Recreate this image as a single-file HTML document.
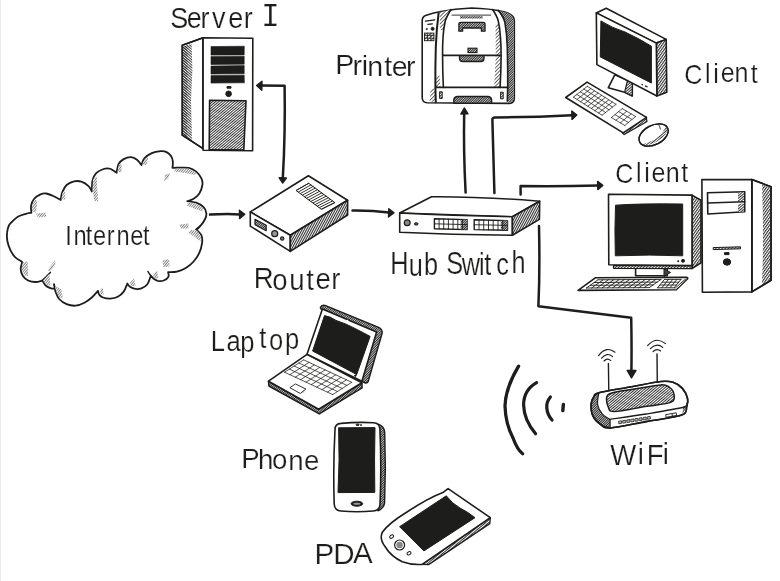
<!DOCTYPE html>
<html lang="en">
<head>
<meta charset="utf-8">
<title>Network diagram</title>
<style>
html,body{margin:0;padding:0;background:#fff;}
body{width:780px;height:581px;overflow:hidden;position:relative;}
svg{display:block;position:absolute;left:0;top:0;}
text{font-family:"Liberation Sans",sans-serif;fill:#1d1d1b;stroke:#fff;stroke-width:0.2;}
#all{filter:url(#rough);}
.o{fill:#fff;stroke:#1d1d1b;stroke-width:1.6;stroke-linejoin:round;stroke-linecap:round;}
.n{fill:none;stroke:#1d1d1b;stroke-width:1.6;stroke-linejoin:round;stroke-linecap:round;}
.t{fill:none;stroke:#1d1d1b;stroke-width:0.9;stroke-linejoin:round;stroke-linecap:round;}
.k{fill:#1d1d1b;stroke:#1d1d1b;stroke-width:1;stroke-linejoin:round;}
.a{fill:none;stroke:#1d1d1b;stroke-width:2.5;stroke-linejoin:round;stroke-linecap:round;}
.ah{fill:#1d1d1b;stroke:#1d1d1b;stroke-width:1.4;stroke-linejoin:round;}
.h1{fill:url(#h1);stroke:#1d1d1b;stroke-width:1.6;stroke-linejoin:round;}
.h2{fill:url(#h2);stroke:#1d1d1b;stroke-width:1.6;stroke-linejoin:round;}
.h3{fill:url(#h3);stroke:none;}
.h4{fill:url(#h4);stroke:none;}
.hd{fill:url(#hd);stroke:none;}
.hs{fill:url(#hs);stroke:none;}
.hb{fill:url(#hb);stroke:none;}
.h1n{fill:url(#h1);stroke:none;}
.h2n{fill:url(#h2);stroke:none;}
</style>
</head>
<body>
<svg width="780" height="581" viewBox="0 0 780 581">
<defs>
<pattern id="h1" width="2" height="2" patternUnits="userSpaceOnUse" patternTransform="rotate(-40)">
<rect width="2" height="2" fill="#fff"/><rect width="2" height="1" fill="#333"/>
</pattern>
<pattern id="h2" width="2.2" height="2.2" patternUnits="userSpaceOnUse" patternTransform="rotate(-55)">
<rect width="2.2" height="2.2" fill="#fff"/><rect width="2.2" height="1.1" fill="#333"/>
</pattern>
<pattern id="h3" width="2.6" height="2.6" patternUnits="userSpaceOnUse" patternTransform="rotate(-45)">
<rect width="2.6" height="2.6" fill="#fff"/><rect width="2.6" height="0.9" fill="#555"/>
</pattern>
<pattern id="h4" width="1.9" height="1.9" patternUnits="userSpaceOnUse" patternTransform="rotate(-50)">
<rect width="1.9" height="1.9" fill="#fff"/><rect width="1.9" height="0.8" fill="#6a6a6a"/>
</pattern>
<pattern id="hd" width="1.7" height="1.7" patternUnits="userSpaceOnUse" patternTransform="rotate(-45)">
<rect width="1.7" height="1.7" fill="#fff"/><rect width="1.7" height="1.1" fill="#2a2a2a"/>
</pattern>
<pattern id="hs" width="2" height="2" patternUnits="userSpaceOnUse" patternTransform="rotate(-62)">
<rect width="2" height="2" fill="#fff"/><rect width="2" height="1.05" fill="#303030"/>
</pattern>
<filter id="rough" x="0" y="0" width="780" height="581" filterUnits="userSpaceOnUse" color-interpolation-filters="sRGB">
<feTurbulence type="fractalNoise" baseFrequency="0.035" numOctaves="2" seed="7" result="n"/>
<feDisplacementMap in="SourceGraphic" in2="n" scale="1.2" xChannelSelector="R" yChannelSelector="G" result="d"/>
<feGaussianBlur in="d" stdDeviation="0.35"/>
</filter>
<pattern id="hb" width="2" height="2" patternUnits="userSpaceOnUse" patternTransform="rotate(40)">
<rect width="2" height="0.9" fill="#2a2a2a"/>
</pattern>
<linearGradient id="edge" x1="0" x2="1" y1="0" y2="0">
<stop offset="0" stop-color="#e2e2e2"/><stop offset="1" stop-color="#ffffff"/>
</linearGradient>
</defs>
<rect x="0" y="0" width="780" height="581" fill="#fff"/>
<rect x="0" y="0" width="1.6" height="581" fill="url(#edge)"/>
<g id="all">

<!-- SERVER -->
<g id="server">
<path class="o" d="M203.1 37.8 L182.3 45.2 L182.3 135.2 L203.1 148.6 Z"/>
<path class="hb" d="M183.2 46.5 L191.6 43.8 L192.4 70 L191 100 L192 141.4 L183.2 135.6 Z"/>
<path class="hb" d="M183.2 46.5 L187.6 45.2 L187.2 138.4 L183.2 135.6 Z"/>
<path class="n" d="M203.1 37.8 L182.3 45.2 L182.3 135.2 L203.1 148.6 Z"/>
<path class="o" d="M203.1 37.8 L252.8 38.2 L252.6 150.8 L203.1 150.2 Z"/>
<path class="k" style="stroke-linejoin:miter;stroke-width:0.6" d="M211 46.6 L244.3 46.2 L244.2 54.9 L211 55.1 Z M211 56.4 L244.2 56.2 L244.2 64.2 L211 64.5 Z M211 66 L244.2 65.6 L244.2 73.8 L211 74.1 Z M211 75.6 L244.2 75.2 L244.4 82.8 L211 83.1 Z"/>
<rect class="k" x="227" y="86.6" width="4" height="1.6"/>
<circle class="k" cx="228.6" cy="93.8" r="2.8"/>
<path class="h1" d="M209.6 100.2 L246 100.8 L243.8 150 L209.2 149.6 Z"/>
</g>

<!-- CLOUD -->
<g id="cloud">
<path class="o" style="stroke-width:1.8" d="M31.4 212.8 C31.3 211.6 30.7 208 31.1 205.7 C31.5 203.4 32.5 200.8 34 199 C35.5 197.2 38 195.5 40 194.6 C42 193.7 43.7 193.3 45.9 193.5 C48.1 193.7 50.8 194.9 53.3 196 C55.8 197.1 59.5 199.3 60.7 200 L60.7 200 C61 198.7 61.2 194.9 62.2 192.4 C63.2 189.9 64.6 186.8 66.6 185 C68.6 183.2 71.5 181.9 74 181.3 C76.5 180.8 78.9 180.8 81.4 181.7 C83.9 182.5 87.1 184.8 88.8 186.4 C90.5 188 91.3 190.7 91.8 191.5 L91.8 191.5 C91.9 189.7 91.8 183.6 92.5 180.5 C93.2 177.4 94.4 175 96.2 173.1 C98 171.2 101.4 169.7 103.6 169 C105.8 168.3 107.9 168.4 109.5 168.7 C111.1 168.9 112.1 169.8 113.3 170.5 C114.5 171.2 116 172.3 116.6 172.7 L116.6 172.7 C116.9 171.3 117.3 166.5 118.5 164.2 C119.7 161.9 121.6 160.3 123.7 159.1 C125.8 157.9 128.9 157 131.1 157.1 C133.3 157.2 135.3 158.5 137 159.8 C138.7 161.1 140.7 164.1 141.4 165 L141.4 165 C141.9 163.9 142.7 160.3 144.4 158.3 C146.1 156.3 149.1 154.3 151.8 153.1 C154.5 151.9 158.2 151.4 160.7 151.2 C163.2 151 164.9 151.3 166.6 152.1 C168.3 152.9 170 154.6 171 156.1 C172 157.6 172.6 159.3 172.8 161.3 C173.1 163.3 172.6 166.8 172.5 167.9 L172.5 167.9 C173.2 167.9 174.3 167.7 177 167.7 C179.7 167.7 185.6 167.2 188.8 167.9 C192 168.6 194.1 169.9 196.2 171.6 C198.3 173.3 200.4 176.1 201.4 178.3 C202.4 180.5 202.8 182.4 202.4 185 C202 187.6 200.7 191.5 199.2 193.8 C197.7 196.1 195.2 197.8 193.2 199 C191.2 200.2 188.3 200.8 187.3 201.2 L187.3 201.2 C188.8 201.4 193.5 201.7 196.2 202.7 C198.9 203.7 201.9 205.5 203.6 207.2 C205.3 208.9 206.1 211.1 206.3 213.1 C206.6 215.1 206.1 216.9 205.1 219 C204.1 221.1 202.1 224 200.6 225.7 C199.1 227.4 196.9 228.8 196.2 229.4 L196.2 229.4 C197.1 230.4 200.4 233.2 201.4 235.4 C202.4 237.6 202.5 239.9 202.1 242.8 C201.7 245.8 200.7 249.9 199.2 253.1 C197.7 256.3 195.4 259.5 193.2 262 C191 264.5 188.5 266.3 185.8 267.9 C183.1 269.5 179.9 270.9 177 271.6 C174.1 272.3 169.6 272 168.1 272.1 L168.1 272.1 C168.2 272.9 169.2 275.4 168.4 276.8 C167.7 278.2 165.4 279.8 163.6 280.5 C161.8 281.2 159.3 281.1 157.7 280.9 C156.1 280.6 155.2 279.9 154 279 C152.8 278.1 151.3 276.3 150.8 275.8 L150.8 275.8 C150.2 277.2 149 282.1 147.4 284.2 C145.8 286.3 143.4 287.5 141.4 288.3 C139.4 289.1 137.5 289.2 135.5 288.9 C133.5 288.6 130.9 287.3 129.6 286.4 C128.2 285.5 127.8 284 127.4 283.5 L127.4 283.5 C126.8 284.9 125.3 289.4 123.7 291.6 C122.1 293.8 120 295.6 117.8 296.8 C115.6 298 112.9 298.5 110.4 298.6 C107.9 298.7 104.9 298.2 103 297.5 C101.1 296.8 100 295.7 99.2 294.6 C98.4 293.5 98.2 291.5 98 290.9 L98 290.9 C97 292 94.1 295.5 91.8 297.5 C89.5 299.5 87.1 301.3 84.4 302.7 C81.7 304.1 78.5 305.4 75.5 305.7 C72.5 305.9 69.3 305.3 66.6 304.2 C63.9 303.1 61.1 301.1 59.2 299 C57.4 296.9 56.4 294.1 55.5 291.6 C54.6 289.1 54.2 285.4 54 284.2 L54.8 288.6 C54.2 288.6 52.6 288.8 51.1 288.3 C49.6 287.8 47.4 287 45.9 285.7 C44.4 284.4 42.8 281.4 42.2 280.5 L42.2 280.5 C41.1 280.8 37.9 282 35.5 282 C33.1 282 30.2 281.5 28.1 280.5 C26 279.5 24.1 278 22.9 276.1 C21.7 274.2 20.8 271.8 20.7 269.4 C20.6 267 21.9 263.2 22.2 262 L22.2 262 C21 261.1 16.8 258.8 14.8 256.8 C12.8 254.8 11.6 252.8 10.4 250.2 C9.2 247.6 8 244.3 7.4 241.3 C6.9 238.3 6.8 235 7.1 232.4 C7.3 229.8 8.1 227.2 8.9 225.5 C9.7 223.8 10.3 223.4 11.8 222 C13.3 220.6 15.5 218.2 17.8 216.8 C20.1 215.4 23.6 214.5 25.9 213.8 C28.2 213.1 30.5 213 31.4 212.8 Z"/>
<path class="n" style="stroke-width:1.5" d="M42.2 280.5 Q46 277 50.3 272.4 M150.8 275.8 Q149 273.5 148 271.5 M196.2 229.4 Q199 228.5 199.9 226.3"/>
<path class="h4" d="M32.2 212 L32 205.5 L35 199.6 L37.2 201 L36 212.4 Z M36 213.4 L45.5 212.4 L46.5 216.6 L38 217.6 Z M61.4 199 L62.6 192.5 L65 190.6 L65.4 199.8 Z M92.6 190 L93 179 L96.8 176.6 L97.2 189 L98.4 201.5 L94.4 201 Z M117.4 171.8 L119 164.6 L121.8 164.4 L121.2 172.4 Z M142.2 164.6 L145 158.4 L148.2 157.8 L146.6 165 Z M176 168.8 L189 168.8 L196.4 172.4 L195.4 175 L185 173 L174 171.4 Z M164 182 L165 175 L169.8 173 L168.6 178 Z M188 202.4 L196.2 203.6 L203 208 L202.4 211.4 L194 208.4 L186.6 205.4 Z M179.4 224.4 L188.6 223.4 L188.4 228.6 L180.6 228.4 Z M191 230 L197 230.4 L200.8 236 L200.4 241.4 L195 237 L187.6 232.4 Z M162.4 260.4 L169 259 L169.6 266.6 L163.4 267.2 Z M152.6 274.4 L157 270.8 L158.6 278.4 L154.4 278.2 Z M129.8 283 L134.2 278.2 L135.6 286 L131 286 Z M100 290 L102.6 287.2 L103.8 294.4 L100.6 294 Z M22.8 262.4 L27.6 261.2 L28 276 L24.4 275.4 L21.8 269.6 Z M47.4 270.6 L55.2 259.8 L55.4 265 L50 271.4 Z M43.2 280.2 L49.4 273.8 L50.4 286 L46 284.6 Z M55 285.4 L61.4 289.6 L63 298.6 L59 297 L56.2 291.4 Z"/>
</g>

<!-- ROUTER -->
<g id="router">
<path class="o" d="M250.3 211.9 L308.4 175.8 L347.6 200.3 L290.3 235.2 Z"/>
<path class="o" d="M250.3 211.9 L290.3 235.2 L290.3 251.4 L250.3 226.1 Z"/>
<path class="hs" style="stroke:#1d1d1b;stroke-width:1.6;stroke-linejoin:round" d="M290.3 235.2 L347.6 200.3 L347.6 215 L290.3 251.4 Z"/>
<path class="t" style="stroke-width:0.9" d="M296.4 190.3 L308.7 183.3 M298.5 191.9 L310.9 184.9 M300.6 193.4 L313.1 186.5 M302.7 195.0 L315.2 188.1 M304.8 196.6 L317.4 189.7 M306.9 198.1 L319.6 191.3 M309.0 199.7 L321.8 192.9 M311.2 201.3 L323.9 194.6 M313.3 202.8 L326.1 196.2 M315.4 204.4 L328.3 197.8 M317.5 206.0 L330.4 199.4 M319.6 207.5 L332.6 201.0 M321.7 209.1 L334.8 202.6"/>
<path class="t" style="stroke-width:1" d="M296.4 190.3 L308.7 183.3 L334.8 202.6 L321.7 209.1 Z"/>
<path class="hd" style="stroke:#1d1d1b;stroke-width:1.2;stroke-linejoin:round" d="M255 219.3 L266.2 225.2 L266.2 230.7 L255 224.7 Z"/>
<circle class="o" style="stroke-width:1.2;fill:#999" cx="274.7" cy="233.7" r="3"/>
<circle class="o" style="stroke-width:1.1;fill:#777" cx="282.2" cy="238.6" r="1.7"/>
</g>

<!-- HUB -->
<g id="hub">
<path class="o" d="M399.7 213 L431.5 196.7 Q480 196.4 539.7 201.2 L512.4 216.7 Z"/>
<path class="o" d="M399.7 213 Q450 215.6 512.4 216.7 L512.4 235.2 Q450 234.6 399.7 232.2 Z"/>
<path class="hs" style="stroke:#1d1d1b;stroke-width:1.6;stroke-linejoin:round" d="M512.4 216.7 L539.7 201.2 L539.4 219.4 L512.4 235.2 Z"/>
<path class="o" style="stroke-width:1.4" d="M434.4 218.8 L467.1 219.6 L467.1 229.6 L434.4 228.8 Z"/>
<path class="hd" d="M460.6 219.4 L467.1 219.6 L467.1 229.6 L460.6 229.4 Z"/>
<path class="t" style="stroke-width:0.9" d="M434.4 223.8 L467.1 224.6 M439.1 218.9 L439.1 228.9 M443.7 219.0 L443.7 229.0 M448.4 219.1 L448.4 229.1 M453.1 219.3 L453.1 229.3 M457.8 219.4 L457.8 229.4 M462.4 219.5 L462.4 229.5"/>
<path class="o" style="stroke-width:1.4" d="M474.2 219.8 L507.5 220.6 L507.5 230.2 L474.2 229.6 Z"/>
<path class="hd" d="M500.8 220.4 L507.5 220.6 L507.5 230.2 L500.8 230.1 Z"/>
<path class="t" style="stroke-width:0.9" d="M474.2 224.7 L507.5 225.4 M479.0 219.9 L479.0 229.7 M483.7 220.0 L483.7 229.8 M488.5 220.1 L488.5 229.9 M493.2 220.3 L493.2 229.9 M498.0 220.4 L498.0 230.0 M502.7 220.5 L502.7 230.1"/>
<circle class="o" style="stroke-width:1.2;fill:#888" cx="407.2" cy="222.7" r="2.9"/>
<ellipse class="k" cx="416.2" cy="223.9" rx="1.8" ry="1.2" style="fill:#555"/>
</g>

<!-- PRINTER -->
<g id="printer">
<path class="o" d="M422.2 21 Q422.2 17 425.5 15.6 Q433 12.8 439.6 11.7 Q455 8.6 471.8 8 Q489 8.4 503.9 11.7 Q509 13 511.5 15.1 Q514.2 16.8 514.3 21 L514.3 98 Q514.2 103 509.6 103.4 L427 102.8 Q422.6 102.6 422.2 98 Z"/>
<path class="hd" d="M498.6 10.8 L503.9 11.7 Q509 13 511.5 15.1 Q513.6 16.8 513.6 21 L513.6 98 Q513.4 102.4 509.6 102.6 L507.4 102.4 L507.7 87.4 L507.3 47.3 L504.9 22.7 Z"/>
<path class="h3" d="M495.5 24.6 L498.6 22.5 L500.5 37.8 L501.1 56.8 L500.1 87.2 L494.2 87.2 L495.8 56 Z"/>
<path class="h3" d="M439.5 12.6 L450 10 L445.3 21.8 L443.8 30 L440 30 Z M436.2 76 L439.4 75 L440.4 87 L436 87 Z M430.8 89 L435.2 88.6 L435.2 101.8 L429.6 101.8 Z"/>
<path class="n" d="M438.6 12.9 Q436.4 30 435.8 47.3 Q435.2 68 435.4 87.4 L435.8 102.2" style="stroke-width:2"/>
<path class="n" d="M451 9.5 Q446.4 17 445.3 20.8 Q443.4 29 443 37.8 Q442.4 47 442.6 56.8 Q442.6 72 443.4 87.4"/>
<path class="n" d="M492.6 9.5 Q497 16 498.2 20.8 Q500 28 500.5 37.8 Q501.2 47 501.1 56.8 Q501 72 500.1 87.4"/>
<path class="n" d="M498.2 10.4 Q503.4 16 504.9 22.7 Q507 34 507.3 47.3 Q507.8 68 507.7 87.4 L507.3 101"/>
<path class="n" d="M442.8 55.4 L501 55.4 M435.8 87.4 L507.7 87.4"/>
<path class="t" d="M451.9 15.1 L490.7 15.1"/>
<rect class="hd" x="460" y="16.2" width="22.7" height="2.3"/>
<path class="hd" style="stroke:#1d1d1b;stroke-width:1.3;stroke-linejoin:round" d="M458.9 24 Q458.9 22.3 461 22.3 L483 22.3 Q485 22.3 485 24 L485 31.2 L481.4 31.2 L481.4 28 L462.6 28 L462.6 31.2 L458.9 31.2 Z"/>
<rect class="hd" style="stroke:#1d1d1b;stroke-width:1.1" x="468" y="48.2" width="9" height="4.4"/>
<path class="hd" style="stroke:#1d1d1b;stroke-width:1.3;stroke-linejoin:round" d="M459.5 55.6 L484 55.6 L484 58.8 Q483.6 61.5 481 61.5 L462.5 61.5 Q460 61.5 459.5 58.8 Z"/>
<path class="hd" style="stroke:#1d1d1b;stroke-width:1.4;stroke-linejoin:round" d="M453.8 103.2 L453.8 99.6 Q454.4 96.5 457.6 96.5 L487.8 96.5 Q491 96.5 491.6 99.6 L491.6 103.2 Z"/>
<rect class="h1" style="stroke-width:1" x="439.6" y="91.8" width="2.6" height="6.6"/>
<rect class="h1" style="stroke-width:1" x="500.6" y="92.2" width="2.6" height="6.6"/>
<path class="t" style="stroke-width:1.2" d="M425.4 21.2 L434.8 19.8 M427.8 24.3 L432.4 23.9"/>
<circle class="k" cx="432.6" cy="28.8" r="1.5"/>
<circle class="k" cx="426.8" cy="29" r="0.6"/>
<rect class="h3" style="stroke:#1d1d1b;stroke-width:0.9" x="424.5" y="33.1" width="9.4" height="7.6"/>
<path class="t" style="stroke-width:0.8" d="M427.6 33.1 V40.7 M430.8 33.1 V40.7 M424.5 35.6 H433.9 M424.5 38.2 H433.9"/>
</g>

<!-- CLIENT 1 -->
<g id="client1">
<path class="o" d="M614.8 74.8 L632.3 82.5 L632.3 96 L624.6 92.3 L608.3 87.7 Z"/>
<path class="h1" style="stroke-width:1.2" d="M627.5 80.4 L632.3 82.5 L632.3 96 L624.6 92.3 Z"/>
<path class="o" d="M596.3 12.9 L606.2 8.3 L666.2 39.4 L656.3 43.1 Z"/>
<path class="h2" d="M656.3 43.1 L666.2 39.4 L666.8 92.3 L656.9 96 Z"/>
<path class="o" d="M596.3 12.9 L656.3 43.1 L656.9 96 L596.9 64.6 Z"/>
<path class="k" d="M600.9 20.9 Q612 28 625 32 Q640 39 651.4 46.2 L651.4 83.1 L600.3 56.9 Z"/>
<path class="k" d="M641.5 84.2 l1.5 .8 M645 85.8 l2.6 1.2" style="fill:none;stroke-width:1.3"/>
<path class="h1" style="stroke-width:1.2" d="M622.5 133 L646.2 117 L647 121.4 L624.2 134.6 Z"/>
<path class="o" d="M565.7 97.5 L587.1 82.1 L646.5 117.4 L623.2 132.9 Z"/>
<path class="t" style="stroke-width:0.75" d="M573.4 97.2 L602.1 115.2 M576.9 94.5 L605.6 112.5 M580.3 91.8 L609.1 109.8 M583.8 89 L612.5 107 M587.3 86.3 L616 104.3 M587.3 86.3 L573.4 97.2 M590.9 88.5 L577 99.5 M594.5 90.8 L580.6 101.7 M598.1 93 L584.2 104 M601.6 95.3 L587.8 106.2 M605.2 97.5 L591.3 108.5 M608.8 99.8 L594.9 110.7 M612.4 102 L598.5 113 M616 104.3 L602.1 115.2"/>
<path class="t" style="stroke-width:0.75" d="M611.4 117.6 L624.8 125.5 M615 114.6 L628.4 122.5 M618.6 111.6 L632 119.5 M622.2 108.6 L635.6 116.5 M622.2 108.6 L611.4 117.6 M626.7 111.2 L615.9 120.2 M631.1 113.9 L620.3 122.9 M635.6 116.5 L624.8 125.5"/>
<ellipse class="o" style="stroke-width:1.3" cx="653.6" cy="135" rx="15.6" ry="9.6" transform="rotate(-27 653.6 135)"/>
<path class="h1n" d="M665.5 124.6 Q669 127.5 667.6 131.5 Q663 139 653 143.6 Q645.5 146.4 641.4 144.6 Q652 142.5 660.4 135 Q665.4 129.6 665.5 124.6 Z"/>
<ellipse class="n" style="stroke-width:1.3" cx="653.6" cy="135" rx="15.6" ry="9.6" transform="rotate(-27 653.6 135)"/>
<path class="t" d="M658.6 124.6 Q660 126.5 660.4 129"/>
</g>

<!-- CLIENT 2 -->
<g id="client2">
<path class="o" d="M635.6 268 L667.2 268 L667.2 275.8 L635.6 275.8 Z"/>
<path class="k" d="M664 268.5 L670.5 272.5 L664 276.5 Z" style="fill:#444"/>
<path class="h2" d="M692 195.1 L701 200.2 L701 262.8 L692 268.5 Z"/>
<path class="h1" d="M613.5 265.4 L692 265.6 L692 268.7 L613.5 268.3 Z" style="stroke-width:1.2"/>
<path class="o" d="M608.5 194.3 L692 195.1 L692 265.6 L608.8 264.8 Z"/>
<path class="k" d="M615.5 205.2 Q640 203.4 682.7 204 L682.7 255.8 Q650 254.4 615.3 255.8 Q614.5 230 615.5 205.2 Z"/>
<circle class="k" cx="678.2" cy="261.2" r="0.6"/>
<circle class="k" cx="683" cy="260.8" r="1.5"/>
<path class="o" d="M578.1 290.4 L595.6 277.7 L686 277.2 Q688.6 277.4 687.4 279 L676.3 289.8 Z"/>
<path class="t" style="stroke-width:0.9" d="M586.4 288 L649.4 287.6 M590.3 285.3 L653.3 284.9 M594.1 282.5 L657.1 282.1 M598 279.8 L661 279.4 M598 279.8 L586.4 288 M603.2 279.8 L591.6 288 M608.5 279.7 L596.9 287.9 M613.8 279.7 L602.1 287.9 M619 279.7 L607.4 287.9 M624.2 279.6 L612.6 287.8 M629.5 279.6 L617.9 287.8 M634.8 279.6 L623.2 287.8 M640 279.5 L628.4 287.7 M645.2 279.5 L633.7 287.7 M650.5 279.5 L638.9 287.7 M655.8 279.4 L644.2 287.6 M661 279.4 L649.4 287.6"/>
<path class="t" style="stroke-width:0.9" d="M657.6 287.8 L674.2 287.8 M659.9 285 L676.5 285 M662.1 282.2 L678.7 282.2 M664.4 279.4 L681 279.4 M664.4 279.4 L657.6 287.8 M668.5 279.4 L661.8 287.8 M672.7 279.4 L665.9 287.8 M676.9 279.4 L670 287.8 M681 279.4 L674.2 287.8"/>
<path class="h1n" d="M676.3 289.4 L687 278.6 L684.4 278.4 L674.4 288.6 Z"/>
<path class="o" d="M751.8 179.6 L771 186.7 L771 280.3 L751.8 291.9 Z"/>
<path class="h2n" d="M762 184 L770.2 187.2 L770.2 279.8 L762 284.6 Q764 235 762 184 Z"/>
<path class="n" d="M751.8 179.6 L771 186.7 L771 280.3 L751.8 291.9 Z"/>
<path class="o" d="M701.9 179.6 L751.8 179.6 L751.8 291.9 L702.4 292.3 Z"/>
<path class="o" d="M707.5 192.8 L744.7 191.8 L744.7 211.8 L707.8 214 Z"/>
<path class="h1n" d="M738 192.5 L744 192.3 L744 201 L738 201.5 Z M738 204 L744 203.6 L744 211.5 L738 212 Z"/>
<path class="n" d="M707.6 203 L744.7 201.8"/>
<path class="h1" style="stroke-width:1" d="M713.2 247.6 L740.5 246.8 L740.5 248.8 L713.2 249.6 Z"/>
<rect class="k" x="724.6" y="252.6" width="4.4" height="2"/>
<ellipse class="k" cx="727" cy="262" rx="3.7" ry="3.2"/>
</g>

<!-- LAPTOP -->
<g id="laptop">
<path class="hd" style="stroke:#1d1d1b;stroke-width:1.5;stroke-linejoin:round" d="M268.5 381.2 L318.7 409.2 L361.9 382.8 L362.1 387.9 L319.3 413.9 L268.9 386 Z"/>
<path class="o" d="M307 354.3 L268.5 381.2 L318.7 409.2 L361.9 382.8 Z"/>
<path class="hd" style="stroke:#1d1d1b;stroke-width:1.5;stroke-linejoin:round" d="M320.4 307.6 Q321.6 304.4 325 305.4 L378.6 327.4 Q382.8 329.6 382 333.6 L368.2 381.4 Q367.6 383.2 365.4 383 L361.9 381.4 Z"/>
<path class="o" d="M322.4 309 L376.6 332 L361.9 381.2 L307 354.3 Z"/>
<path class="k" d="M324.5 315.6 Q330 316.4 336 320.4 Q346 323.5 356 329 Q364 333 370.1 336.4 L356.7 374.5 L312.6 351 Z"/>
<circle cx="347.6" cy="320.6" r="0.8" fill="#fff"/>
<circle class="k" cx="355.4" cy="375.6" r="0.8"/>
<path class="t" style="stroke-width:0.75" d="M284.6 372.2 L332.7 394.6 M289.4 369.1 L337.5 391.5 M294.1 366 L342.3 388.5 M298.9 363 L347 385.4 M303.7 359.9 L351.8 382.3 M303.7 359.9 L284.6 372.2 M309 362.4 L289.9 374.7 M314.4 364.9 L295.3 377.2 M319.7 367.4 L300.6 379.7 M325.1 369.9 L306 382.2 M330.4 372.3 L311.3 384.6 M335.8 374.8 L316.7 387.1 M341.1 377.3 L322 389.6 M346.5 379.8 L327.4 392.1 M351.8 382.3 L332.7 394.6"/>
<path class="t" d="M295.8 384.1 L305.9 389 L300.3 393.5 L290.2 387.9 Z"/>
<path class="h1n" d="M302.6 390.8 L305.9 389 L304 392.4 L301 393 Z"/>
</g>

<!-- PHONE -->
<g id="phone">
<path class="hd" style="stroke:#1d1d1b;stroke-width:1.4;stroke-linejoin:round" d="M378 424.2 Q384 426 384.7 432 Q386 468 384.6 503 Q384 508 378 510.8 Z"/>
<path class="o" d="M335 429.5 Q335 423.8 341 423.4 Q358 421.8 373.6 422.8 Q379.6 423.2 379.9 429 Q381.6 467 380 504.5 Q379.6 510.5 373 511 Q357 512.6 341 511 Q334.6 510.5 334.2 504 Q333 467 335 429.5 Z"/>
<path class="k" d="M338.6 427.8 L375 427.6 Q374.2 460 374.8 492.4 L338 492.6 Q339.8 460 338.6 427.8 Z"/>
<ellipse class="k" cx="356.9" cy="503.7" rx="5.8" ry="2.5"/>
<ellipse cx="356.9" cy="503.7" rx="3.6" ry="1" fill="#999"/>
<ellipse class="k" cx="357.6" cy="424.8" rx="1.5" ry="0.8"/>
<circle class="k" cx="361" cy="425" r="0.5"/>
</g>

<!-- PDA -->
<g id="pda">
<path class="h1" style="stroke-width:1.3" d="M490.3 517.7 L422.1 564.4 L428.6 564.6 L489.8 523.6 Z"/>
<path class="o" d="M448.1 488.6 L490.3 517.7 L422.1 564.4 Q412 565.2 402.3 561.7 Q391 556.5 385 546.5 Q379 538.5 382.5 532 Q389 523 407 512 Q428 498 443.5 492.2 Z"/>
<path class="k" d="M399.6 526.7 L446.3 495.8 Q452 503.5 460 508 Q468 512 475 517.7 L423.9 550.9 Z"/>
<circle class="o" cx="399.6" cy="545" r="5" style="stroke-width:1.2"/>
<circle cx="399.6" cy="545" r="3.2" fill="#888"/>
<ellipse class="o" cx="391.6" cy="536.6" rx="2.1" ry="1.5" style="stroke-width:1" transform="rotate(-30 391.6 536.6)"/>
<ellipse class="o" cx="409" cy="553.3" rx="2.1" ry="1.5" style="stroke-width:1" transform="rotate(-30 409 553.3)"/>
</g>

<!-- WIFI -->
<g id="wifi">
<path class="n" style="stroke-width:1.4" d="M608.4 363.4 L608.8 391 M657 353.9 L657.3 382.5"/>
<path class="n" style="stroke-width:1.15" d="M598.6 355.7 Q606.5 345.4 615 352.2 M601.6 358.2 Q607 351.8 612.6 356.6 M604 361 Q607.4 357.6 610.8 360.6 M647.6 345.6 Q656 336 665.4 343.6 M650.4 348.6 Q656.6 342.4 662.8 347.4 M653 351.6 Q656.8 348 660.6 351"/>
<path class="o" d="M598.9 392.7 C605.2 391.1 621.4 388.6 631.7 386.7 C642 384.8 654 382.2 660.9 381.5 C667.8 380.8 669.4 381.2 673 382.3 C676.6 383.4 680 385.7 682.4 388.4 C684.8 391.1 686.9 395.7 687.6 398.7 C688.3 401.7 687.7 403.8 686.7 406.5 C685.7 409.2 688.4 412.6 681.6 415.1 C674.8 417.6 657.9 419.5 646 421.6 C634.1 423.8 617.6 427.5 610.1 428 C602.6 428.5 603.6 426.5 600.7 424.5 C597.8 422.5 594.5 419.3 592.9 415.9 C591.3 412.5 591 407.1 591.2 403.9 C591.4 400.7 592.7 398.4 594 396.5 C595.3 394.6 592.6 394.3 598.9 392.7 Z"/>
<path class="hd" style="stroke:#1d1d1b;stroke-width:1.2;stroke-linejoin:round" d="M598.9 392.7 C598.1 393.3 595.3 394.6 594 396.5 C592.7 398.4 591.4 400.7 591.2 403.9 C591 407.1 591.3 412.5 592.9 415.9 C594.5 419.3 597.8 422.5 600.7 424.5 C603.6 426.5 608.5 427.4 610.1 428 L610.1 419.4 L610.1 419.4 C608.8 418.5 604.5 416.7 602.4 414.2 C600.3 411.7 598.2 408.1 597.6 404.5 C597 400.9 598.7 394.7 598.9 392.7 Z"/>
<path class="hd" d="M683.3 407.3 L687.2 403.6 L686.4 407.8 L682.2 414.4 Z"/>
<path class="n" style="stroke-width:1.4" d="M610.1 419.4 C616.1 418.5 633.8 416 646 414 C658.2 412 676.5 409.1 683.3 407.3 C690.1 405.6 686.4 404.1 687 403.5"/>
<path class="h1" style="stroke-width:1.5" d="M606.7 397 C607.4 394.6 607.8 394.1 612.7 392.7 C617.6 391.3 628 390.1 636 388.8 C644 387.5 655.4 385.2 660.9 384.9 C666.4 384.6 666.9 385.6 669 387 C671.1 388.4 673.4 391 673.8 393.5 C674.2 396 676.1 399.9 671.3 402.1 C666.5 404.3 654.5 405 645 406.6 C635.5 408.2 620.5 411.5 614.4 411.6 C608.3 411.7 609.7 409.7 608.4 407.3 C607.1 404.9 606 399.4 606.7 397 Z"/>
<path class="t" style="stroke-width:0.8;fill:#bbb" d="M618.9 421.2 l2.6 -0.4 l0.3 2.5 l-2.6 0.4 Z M623.0 420.6 l2.6 -0.4 l0.3 2.5 l-2.6 0.4 Z M627.1 419.9 l2.6 -0.4 l0.3 2.5 l-2.6 0.4 Z M631.2 419.3 l2.6 -0.4 l0.3 2.5 l-2.6 0.4 Z M635.3 418.7 l2.6 -0.4 l0.3 2.5 l-2.6 0.4 Z M639.4 418.1 l2.6 -0.4 l0.3 2.5 l-2.6 0.4 Z M643.5 417.4 l2.6 -0.4 l0.3 2.5 l-2.6 0.4 Z M647.6 416.8 l2.6 -0.4 l0.3 2.5 l-2.6 0.4 Z"/>
<path class="t" style="stroke-width:0.9" d="M666.1 414.6 L676.2 412.8 L676.6 415.4 L666.5 417.2 Z M672 413.6 l0.4 2.6"/>
<path class="n" d="M598.9 392.7 C605.2 391.1 621.4 388.6 631.7 386.7 C642 384.8 654 382.2 660.9 381.5 C667.8 380.8 669.4 381.2 673 382.3 C676.6 383.4 680 385.7 682.4 388.4 C684.8 391.1 686.9 395.7 687.6 398.7 C688.3 401.7 687.7 403.8 686.7 406.5 C685.7 409.2 688.4 412.6 681.6 415.1 C674.8 417.6 657.9 419.5 646 421.6 C634.1 423.8 617.6 427.5 610.1 428 C602.6 428.5 603.6 426.5 600.7 424.5 C597.8 422.5 594.5 419.3 592.9 415.9 C591.3 412.5 591 407.1 591.2 403.9 C591.4 400.7 592.7 398.4 594 396.5 C595.3 394.6 592.6 394.3 598.9 392.7 Z"/>
</g>

<!-- WAVES -->
<g id="waves">
<path class="a" style="stroke-width:3.3" d="M518.6 366.2 Q505.5 388 505 406 Q505.6 424 513 438 Q517.5 450 522.6 453.8"/>
<path class="a" style="stroke-width:3.2" d="M536.6 382.6 Q523.6 390 523.6 405 Q524 420 535.6 433.8"/>
<path class="a" style="stroke-width:3.2" d="M550.4 397 Q546.2 402 546.8 408 Q547.4 415 552 420"/>
<path class="a" style="stroke-width:3.4" d="M563.4 404.4 L562.8 410.6"/>
</g>

<!-- ARROWS -->
<g id="arrows">
<path class="a" d="M260 85.5 L284.6 85.8 Q285.4 135 282.8 178"/>
<path class="ah" d="M256.6 85.5 L262 81.2 L261.8 90.2 Z"/>
<path class="ah" d="M282.7 183 L279.2 177.8 L286.4 178 Z"/>
<path class="a" d="M210 214.6 Q226 213.6 240 214.4"/>
<path class="ah" d="M244.8 214.3 L239.4 210.2 L239.6 218.6 Z"/>
<path class="a" d="M352.5 210.6 Q372 210.4 389 212.4"/>
<path class="ah" d="M394 212.8 L388.8 208.8 L388.5 217 Z"/>
<path class="a" d="M465.6 192.5 Q463.4 150 464.2 113"/>
<path class="ah" d="M464.3 108 L460.8 114 L468 113.8 Z"/>
<path class="a" d="M494.4 193 Q493.2 150 492.4 120 Q492.2 117.4 495 117.4 Q535 117.2 572 115.2"/>
<path class="ah" d="M576.8 115 L571.8 111 L572 119.4 Z"/>
<path class="a" d="M520.6 194.4 L520.6 186 Q560 186.4 598 185.6"/>
<path class="ah" d="M602.8 185.4 L597.6 181.4 L597.8 189.6 Z"/>
<path class="a" d="M539 226 Q540 270 538.4 306.3 L631.2 317.8 Q631.8 345 631.4 372"/>
<path class="ah" d="M631.5 377.8 L627.2 370.4 L636 370.4 Z"/>
</g>

<!-- LABELS -->
<g id="labels">
<text transform="scale(0.900,1)" x="189.3 207.5 222.9 235.7 253.6 270.8 274.1 290.2" y="28.3 27.8 27.8 27.8 27.8 27.8 27.8 26.2" font-size="30.0">Server <tspan font-family="Liberation Mono, monospace" font-size="33.5" textLength="20.45" lengthAdjust="spacingAndGlyphs">I</tspan></text>
<text transform="scale(0.860,1)" x="75.9 85.4 99.8 108.0 124.0 135.6 151.5 166.2" y="244.6 244.6 244.6 244.6 244.6 244.6 244.6 244.6" font-size="27.5">Internet</text>
<text transform="scale(0.950,1)" x="267.2 286.6 304.4 322.4 332.2 348.8" y="287.8 290.0 289.6 289.6 289.0 289.0" font-size="29.0">Router</text>
<text transform="scale(0.830,1)" x="470.2 492.4 510.7 514.3 537.8 556.2 577.1 583.4 597.9 616.4" y="273.8 276.0 275.4 275.0 273.8 274.6 274.6 274.6 274.8 272.8" font-size="30.5">Hub Switch</text>
<text transform="scale(1.000,1)" x="335.3 352.6 361.7 367.2 384.2 391.7 406.1" y="74.2 74.8 75.4 76.2 75.9 75.9 75.9" font-size="28.5">Printer</text>
<text transform="scale(0.880,1)" x="777.5 801.0 810.5 818.9 834.8 853.0" y="83.8 83.3 82.6 82.2 82.4 82.7" font-size="28.5">Client</text>
<text transform="scale(0.880,1)" x="699.2 722.7 732.0 740.3 756.5 774.3" y="182.6 182.2 181.8 181.6 181.8 182.0" font-size="28.5">Client</text>
<text transform="scale(0.880,1)" x="239.6 257.4 273.0 294.7 305.8 324.0" y="350.8 350.8 352.5 347.8 350.0 349.5" font-size="29.0">Laptop</text>
<text transform="scale(0.970,1)" x="248.7 266.1 280.5 297.3 313.5" y="468.0 469.2 469.4 469.6 470.4" font-size="28.5">Phone</text>
<text transform="scale(1.000,1)" x="314.5 333.3 353.1" y="563.8 563.8 562.6" font-size="29.5">PDA</text>
<text transform="scale(0.950,1)" x="642.5 671.3 680.9 697.7" y="464.7 463.8 465.0 463.8" font-size="29.0">WiFi</text>
</g>
</g>
</svg>
</body>
</html>
